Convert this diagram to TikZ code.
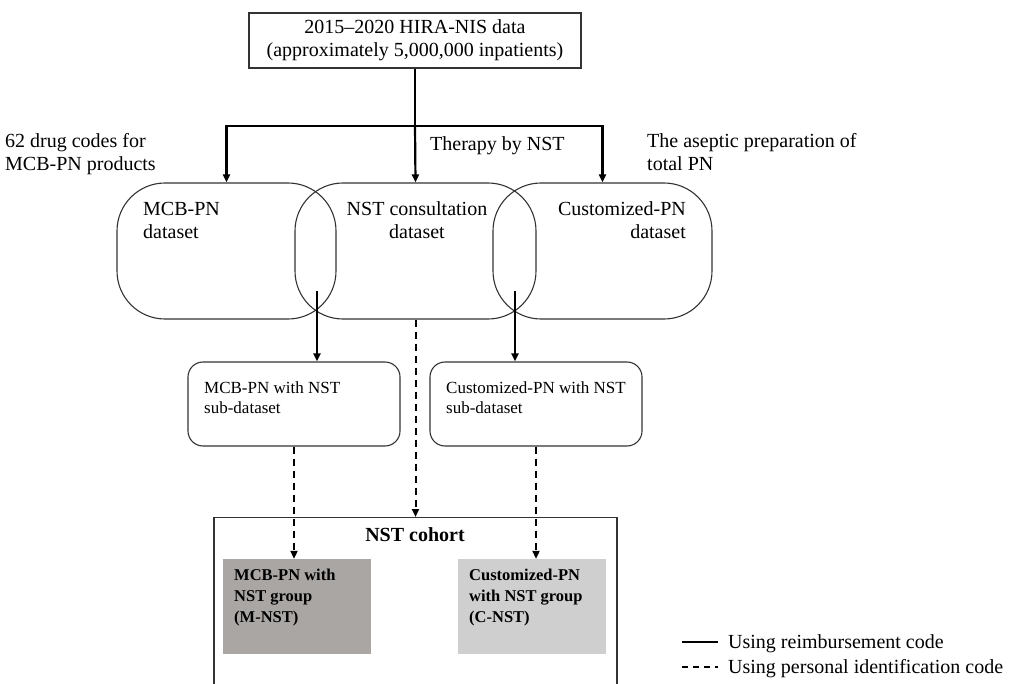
\documentclass[tikz,border=0pt]{standalone}
\usepackage{fontspec}
\setmainfont{Liberation Serif}
\usetikzlibrary{arrows.meta}
\definecolor{mnstgray}{HTML}{A9A6A4}
\definecolor{cnstgray}{HTML}{D0CFCF}
\colorlet{outlinegray}{black!80}

\begin{document}
\begin{tikzpicture}[x=1pt, y=-1pt,
    txt/.style={font=\fontsize{20}{23}\selectfont, inner sep=0pt},
    subtxt/.style={font=\fontsize{17}{20}\selectfont, inner sep=0pt},
    grouptxt/.style={font=\bfseries\fontsize{16.5}{21}\selectfont, inner sep=0pt},
    dataset/.style={draw=outlinegray, line width=1.1pt, rounded corners=48pt, minimum width=219pt, minimum height=136pt},
    subset/.style={draw=outlinegray, line width=1.1pt, rounded corners=15pt, minimum width=212pt, minimum height=84pt},
    group/.style={minimum width=148pt, minimum height=95pt, inner sep=0pt},
    solidarrow/.style={line width=2.2pt, -{Triangle[length=8pt,width=7pt]}},
    dasharrow/.style={line width=2pt, dash pattern=on 7pt off 5pt, -{Triangle[length=8pt,width=7pt]}}]
    \useasboundingbox (0,0) rectangle (1016,684);
    \clip (0,0) rectangle (1016,684);

    % source data
    \node[txt, draw=outlinegray, line width=1.1pt, minimum width=332pt, minimum height=55pt, align=center] (hira) at (415,40.5)
        {2015--2020 HIRA-NIS data\\(approximately 5,000,000 inpatients)};

    % selection criteria (base = last line)
    \node[txt, anchor=base west, align=left] (drugcodes) at (5,171) {62 drug codes for\\MCB-PN products};
    \node[txt, anchor=base west] (therapy) at (430,151) {Therapy by NST};
    \node[txt, anchor=base west, align=left] (aseptic) at (647,171) {The aseptic preparation of\\total PN};

    % datasets
    \node[dataset] (mcb) at (226.5,251) {};
    \node[dataset, minimum width=241pt] (nst) at (415.5,251) {};
    \node[dataset] (cpn) at (602.5,251) {};
    \node[txt, anchor=base west, align=left] (mcbtxt) at (143,239) {MCB-PN\\dataset};
    \node[txt, anchor=base, align=center] (nsttxt) at (417,239) {NST consultation\\dataset};
    \node[txt, anchor=base east, align=right] (cpntxt) at (686,239) {Customized-PN\\dataset};

    \draw[line width=2.2pt] (hira.south) -- (hira.south |- 0,126) coordinate (fork);
    \draw[solidarrow] (fork) -| (mcb.north);
    \draw[solidarrow] (fork) -- (nst.north);
    \draw[solidarrow] (fork) -| (cpn.north);

    % sub-datasets
    \node[subset] (mcbsub) at (294,404) {};
    \node[subset] (cpnsub) at (536,404) {};
    \node[subtxt, anchor=base west, align=left] (mcbsubtxt) at (204,413) {MCB-PN with NST\\sub-dataset};
    \node[subtxt, anchor=base west, align=left] (cpnsubtxt) at (446,413) {Customized-PN with NST\\sub-dataset};

    \coordinate (mcbnst) at (317,291);
    \coordinate (nstcpn) at (515,291);
    \draw[solidarrow] (mcbnst) -- (mcbnst |- mcbsub.north);
    \draw[solidarrow] (nstcpn) -- (nstcpn |- cpnsub.north);

    % cohort
    \node[draw=outlinegray, line width=1.1pt, minimum width=403pt, minimum height=200pt, anchor=north] (cohort) at (415.5,517) {};
    \node[font=\bfseries\fontsize{20}{24}\selectfont, inner sep=0pt, anchor=base] (cohorttitle) at (415,541) {NST cohort};
    \node[group, fill=mnstgray] (mnst) at (297,606.5) {};
    \node[group, fill=cnstgray] (cnst) at (532,606.5) {};
    \node[grouptxt, anchor=base west, align=left] (mnsttxt) at (234,622) {MCB-PN with\\NST group\\(M-NST)};
    \node[grouptxt, anchor=base west, align=left] (cnsttxt) at (469,622) {Customized-PN\\with NST group\\(C-NST)};

    \draw[dasharrow] (mcbsub.south) -- (mcbsub.south |- mnst.north);
    \draw[dasharrow] (nst.south) -- (cohort.north);
    \draw[dasharrow] (cpnsub.south) -- (cpnsub.south |- cnst.north);

    % legend
    \coordinate (solidA) at (682,642);
    \coordinate (solidB) at (718,642);
    \coordinate (dashA) at (682,667);
    \coordinate (dashB) at (718,667);
    \draw[line width=2pt] (solidA) -- (solidB);
    \draw[line width=2pt, dash pattern=on 6pt off 5pt] (dashA) -- (dashB);
    \node[txt, anchor=base west] (solidlbl) at ([xshift=10pt, yshift=-6pt]solidB) {Using reimbursement code};
    \node[txt, anchor=base west] (dashlbl) at ([xshift=10pt, yshift=-6pt]dashB) {Using personal identification code};
\end{tikzpicture}
\end{document}
